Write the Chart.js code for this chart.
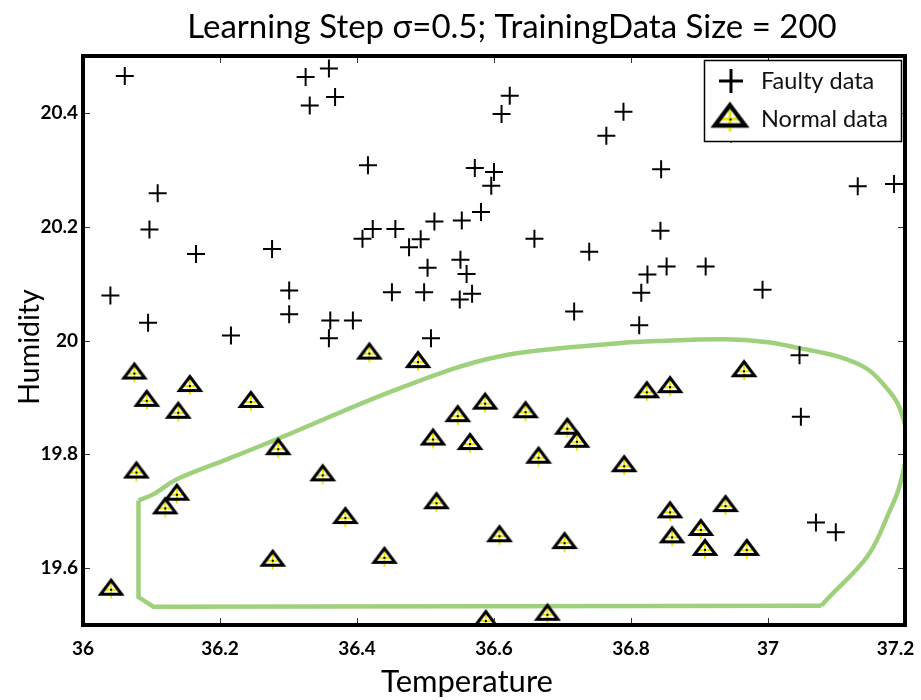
<!DOCTYPE html>
<html>
<head>
<meta charset="utf-8">
<title>Learning Step chart</title>
<script src="https://cdn.jsdelivr.net/npm/chart.js@4.4.0/dist/chart.umd.min.js"></script>
<style>
  html, body { margin: 0; padding: 0; background: #fff; }
  #wrap { width: 921px; height: 700px; }
</style>
</head>
<body>
<div id="wrap"><canvas id="chart" width="921" height="700"></canvas></div>
<script>
// values
const titleText = 'Learning Step σ=0.5; TrainingData Size = 200';
const xTitle = 'Temperature';
const yTitle = 'Humidity';
const legendLabels = ['Faulty data', 'Normal data'];

const xTicks = [36, 36.2, 36.4, 36.6, 36.8, 37, 37.2];
const yTicks = [19.6, 19.8, 20, 20.2, 20.4];

const faultyTemp = [36.061, 36.325, 36.331, 36.359, 36.368, 36.109, 36.097, 36.165, 36.276, 36.040,
                    36.301, 36.301, 36.095, 36.216, 36.623, 36.611, 36.764, 36.789, 36.416, 36.572,
                    36.600, 36.596, 36.581, 36.513, 36.553, 36.423, 36.456, 36.408, 36.493, 36.476,
                    36.659, 36.739, 36.551, 36.503, 36.560, 36.451, 36.498, 36.568, 36.550, 36.717,
                    36.361, 36.394, 36.359, 36.508, 36.844, 37.131, 37.184, 36.843, 36.852, 36.909,
                    36.824, 36.815, 36.992, 36.812, 37.046, 37.048, 37.070, 37.099, 36.946];
const faultyHum  = [20.465, 20.463, 20.413, 20.478, 20.428, 20.259, 20.195, 20.152, 20.161, 20.079,
                    20.088, 20.046, 20.031, 20.009, 20.430, 20.398, 20.360, 20.402, 20.308, 20.303,
                    20.296, 20.272, 20.226, 20.209, 20.211, 20.196, 20.196, 20.179, 20.178, 20.164,
                    20.179, 20.156, 20.142, 20.128, 20.117, 20.085, 20.085, 20.082, 20.072, 20.051,
                    20.035, 20.035, 20.004, 20.004, 20.301, 20.271, 20.275, 20.193, 20.130, 20.130,
                    20.116, 20.084, 20.089, 20.027, 19.974, 19.866, 19.680, 19.663, 20.364];

const normalTemp = [36.418, 36.489, 36.587, 36.547, 36.646, 36.511, 36.565, 36.707, 36.721, 36.665,
                    36.350, 36.516, 36.383, 36.608, 36.703, 36.440, 36.588, 36.678, 36.965, 36.823,
                    36.857, 36.790, 36.857, 36.938, 36.902, 36.860, 36.908, 36.969, 36.075, 36.093,
                    36.156, 36.139, 36.245, 36.078, 36.285, 36.137, 36.120, 36.277, 36.041];
const normalHum  = [19.977, 19.962, 19.889, 19.867, 19.874, 19.826, 19.818, 19.845, 19.822, 19.794,
                    19.763, 19.714, 19.688, 19.656, 19.644, 19.618, 19.507, 19.518, 19.946, 19.909,
                    19.918, 19.779, 19.698, 19.709, 19.667, 19.654, 19.632, 19.632, 19.942, 19.894,
                    19.920, 19.873, 19.892, 19.768, 19.809, 19.729, 19.705, 19.613, 19.562];

// decision boundary: the curved part, then the straight edges closing it
const curveTemp = [36.081, 36.103, 36.137, 36.210, 36.282, 36.462, 36.607, 36.782,
                   36.840, 36.937, 37.000, 37.044, 37.102, 37.146, 37.179, 37.193, 37.204, 37.192,
                   37.179, 37.146, 37.087, 37.078];
const curveHum  = [19.719, 19.730, 19.756, 19.791, 19.826, 19.916, 19.972, 19.995,
                   19.999, 20.002, 19.997, 19.987, 19.972, 19.949, 19.908, 19.879, 19.821, 19.744,
                   19.704, 19.622, 19.546, 19.534];
const edgeTemp = [37.078, 36.103, 36.081, 36.081];
const edgeHum  = [19.534, 19.532, 19.549, 19.719];

const FONT = 'Lato, "Open Sans", sans-serif';
const GREEN = '#9fd07c';
const YELLOW = '#ece800';

function toPoints(xs, ys) {
    return xs.map((x, i) => ({ x: x, y: ys[i] }));
}

// triangle with a yellow cross and a black dot, like the normal data marker
function makeTriangleMarker(s) {
    const size = Math.ceil(28 * s);
    const c = document.createElement('canvas');
    c.width = size;
    c.height = size;
    const g = c.getContext('2d');
    const cx = size / 2, cy = size / 2;
    const top = cy - 9.5 * s, base = cy + 4.5 * s, half = 10.5 * s;

    g.beginPath();
    g.moveTo(cx, top);
    g.lineTo(cx + half, base);
    g.lineTo(cx - half, base);
    g.closePath();
    g.fillStyle = '#fff';
    g.fill();

    g.strokeStyle = YELLOW;
    g.lineWidth = 2 * s;
    g.beginPath();
    g.moveTo(cx, cy - 7 * s);
    g.lineTo(cx, cy + 8.5 * s);
    g.moveTo(cx - 6.5 * s, cy);
    g.lineTo(cx + 6.5 * s, cy);
    g.stroke();

    g.beginPath();
    g.moveTo(cx, top);
    g.lineTo(cx + half, base);
    g.lineTo(cx - half, base);
    g.closePath();
    g.strokeStyle = '#000';
    g.lineWidth = 3 * s;
    g.lineJoin = 'miter';
    g.stroke();

    g.strokeStyle = YELLOW;
    g.lineWidth = 2 * s;
    g.beginPath();
    g.moveTo(cx, base + 1.5 * s);
    g.lineTo(cx, cy + 8.5 * s);
    g.stroke();

    g.fillStyle = '#000';
    g.fillRect(Math.round(cx) - 1, Math.round(cy) - 1, 2, 2);
    return c;
}

const triMarker = makeTriangleMarker(1);
const triLegend = makeTriangleMarker(1.45);

// frame, inward ticks, legend box and the titles
const decorations = {
    id: 'decorations',
    afterDatasetsDraw(chart) {
        const ctx = chart.ctx;
        const a = chart.chartArea;
        const xs = chart.scales.x, ys = chart.scales.y;
        ctx.save();

        ctx.strokeStyle = '#333';
        ctx.lineWidth = 1;
        ctx.beginPath();
        xTicks.forEach(v => {
            const px = Math.round(xs.getPixelForValue(v)) + 0.5;
            ctx.moveTo(px, a.top);
            ctx.lineTo(px, a.top + 7);
            ctx.moveTo(px, a.bottom);
            ctx.lineTo(px, a.bottom - 7);
        });
        yTicks.forEach(v => {
            const py = Math.round(ys.getPixelForValue(v)) + 0.5;
            ctx.moveTo(a.left, py);
            ctx.lineTo(a.left + 7, py);
            ctx.moveTo(a.right, py);
            ctx.lineTo(a.right - 7, py);
        });
        ctx.stroke();

        ctx.strokeStyle = '#000';
        ctx.lineWidth = 4;
        ctx.strokeRect(a.left, a.top, a.right - a.left, a.bottom - a.top);

        // legend
        const lx = 704, ly = 60, lw = 197, lh = 81;
        ctx.fillStyle = '#fff';
        ctx.fillRect(lx, ly, lw, lh);
        ctx.lineWidth = 1.5;
        ctx.strokeRect(lx + 0.5, ly + 0.5, lw, lh);

        ctx.lineWidth = 3;
        ctx.beginPath();
        ctx.moveTo(731 - 12, 81);
        ctx.lineTo(731 + 12, 81);
        ctx.moveTo(731, 81 - 12);
        ctx.lineTo(731, 81 + 12);
        ctx.stroke();
        ctx.drawImage(triLegend, 730 - triLegend.width / 2, 119 - triLegend.height / 2);

        ctx.fillStyle = '#111';
        ctx.textAlign = 'left';
        ctx.textBaseline = 'middle';
        ctx.font = '23.5px ' + FONT;
        ctx.fillText(legendLabels[0], 761, 81);
        ctx.fillText(legendLabels[1], 761, 119);

        // titles
        ctx.fillStyle = '#000';
        ctx.textAlign = 'center';
        ctx.textBaseline = 'alphabetic';
        ctx.font = '33px ' + FONT;
        ctx.fillText(titleText, 512, 38);

        ctx.textBaseline = 'middle';
        ctx.font = '31px ' + FONT;
        ctx.fillText(xTitle, 467, 682);

        ctx.font = '28.5px ' + FONT;
        ctx.translate(30, 347);
        ctx.rotate(-Math.PI / 2);
        ctx.fillText(yTitle, 0, 0);

        ctx.restore();
    }
};

new Chart(document.getElementById('chart'), {
    type: 'scatter',
    data: {
        datasets: [
            {
                label: 'boundary',
                data: toPoints(curveTemp, curveHum),
                showLine: true,
                borderColor: GREEN,
                borderWidth: 4.5,
                pointRadius: 0,
                tension: 0.35,
                fill: false,
                order: 4
            },
            {
                label: 'boundary edges',
                data: toPoints(edgeTemp, edgeHum),
                showLine: true,
                borderColor: GREEN,
                borderWidth: 4.5,
                pointRadius: 0,
                tension: 0,
                fill: false,
                order: 3
            },
            {
                label: legendLabels[0],
                data: toPoints(faultyTemp, faultyHum),
                pointStyle: 'cross',
                pointRadius: 9,
                pointBorderWidth: 2,
                borderColor: '#000',
                backgroundColor: '#000',
                order: 2
            },
            {
                label: legendLabels[1],
                data: toPoints(normalTemp, normalHum),
                pointStyle: triMarker,
                pointRadius: 10,
                order: 1
            }
        ]
    },
    options: {
        responsive: false,
        animation: false,
        events: [],
        layout: { padding: { top: 56, right: 16, bottom: 0, left: 0 } },
        plugins: {
            legend: { display: false },
            title: { display: false },
            tooltip: { enabled: false }
        },
        scales: {
            x: {
                type: 'linear',
                min: 36,
                max: 37.2,
                grid: { display: false, drawTicks: false },
                border: { display: false },
                afterBuildTicks: axis => { axis.ticks = xTicks.map(v => ({ value: v })); },
                afterFit: axis => {
                    axis.height = 75;
                    axis.paddingLeft = 0;
                    axis.paddingRight = 0;
                },
                ticks: {
                    autoSkip: false,
                    maxRotation: 0,
                    padding: 12,
                    color: '#000',
                    font: { family: FONT, size: 19, weight: 'bold' },
                    // the last label sits against the canvas edge; pad it so it stays inside
                    callback: v => v === xTicks[xTicks.length - 1] ? String(v) + '\u2002\u2002' : String(v)
                }
            },
            y: {
                type: 'linear',
                min: 19.5,
                max: 20.5,
                grid: { display: false, drawTicks: false },
                border: { display: false },
                afterBuildTicks: axis => { axis.ticks = yTicks.map(v => ({ value: v })); },
                afterFit: axis => {
                    axis.width = 83;
                    axis.paddingTop = 0;
                    axis.paddingBottom = 0;
                },
                ticks: {
                    padding: 5,
                    color: '#000',
                    font: { family: FONT, size: 19, weight: 'bold' },
                    callback: v => String(v)
                }
            }
        }
    },
    plugins: [decorations]
});
</script>
</body>
</html>
